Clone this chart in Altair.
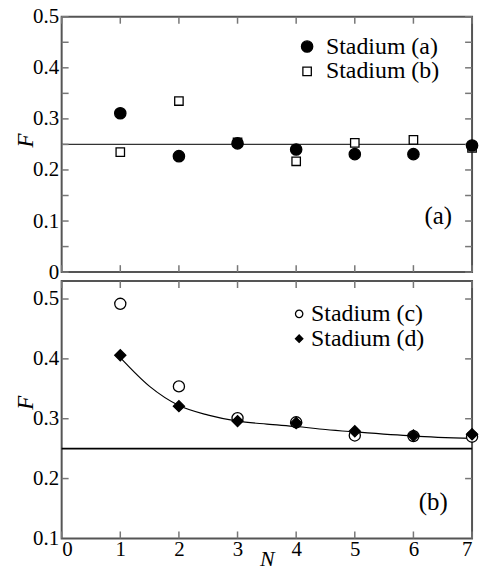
import altair as alt
import pandas as pd

# ---- data ----
N = [1, 2, 3, 4, 5, 6, 7]
stadium_a = [0.311, 0.227, 0.252, 0.240, 0.231, 0.231, 0.248]
stadium_b = [0.235, 0.335, 0.254, 0.217, 0.253, 0.259, 0.243]
stadium_c = [0.492, 0.354, 0.301, 0.294, 0.272, 0.271, 0.270]
stadium_d = [0.406, 0.321, 0.296, 0.293, 0.279, 0.272, 0.274]
fit_N = [1, 1.5, 2, 2.5, 3, 3.5, 4, 4.5, 5, 6, 7]
fit_F = [0.402, 0.354, 0.322, 0.306, 0.296, 0.291, 0.287, 0.282, 0.278, 0.271, 0.267]
reference_F = [0.25]
x_ticks = [0, 1, 2, 3, 4, 5, 6, 7]
top_y_labels = [0, 0.1, 0.2, 0.3, 0.4, 0.5]
top_y_ticks = [0, 0.05, 0.1, 0.15, 0.2, 0.25, 0.3, 0.35, 0.4, 0.45, 0.5]
bot_y_labels = [0.1, 0.2, 0.3, 0.4, 0.5]
bot_y_ticks = [0.2, 0.3, 0.4, 0.5]
series_top = ["Stadium (a)", "Stadium (b)"]
series_bot = ["Stadium (c)", "Stadium (d)"]

SERIF = "Liberation Serif"
TW, TH = 413, 257
BW, BH = 413, 259
TICK_COLOR = "#777"
TICKLEN = 7

top_pts = pd.DataFrame({
    "N": N + N,
    "F": stadium_b + stadium_a,
    "series": [series_top[1]] * 7 + [series_top[0]] * 7,
})
bot_pts = pd.DataFrame({
    "N": N + N,
    "F": stadium_c + stadium_d,
    "series": [series_bot[0]] * 7 + [series_bot[1]] * 7,
})
fit_df = pd.DataFrame({"N": fit_N, "F": fit_F})
ref_df = pd.DataFrame({"F": reference_F})
xt_df = pd.DataFrame({"N": x_ticks})
tyt_df = pd.DataFrame({"F": top_y_ticks})
byt_df = pd.DataFrame({"F": bot_y_ticks})

xscale = alt.Scale(domain=[0, 7], nice=False, zero=False)
top_yscale = alt.Scale(domain=[0, 0.5], nice=False, zero=False)
bot_yscale = alt.Scale(domain=[0.1, 0.53], nice=False, zero=False)

x_axis_bot = alt.Axis(values=x_ticks, tickSize=0, domain=False, grid=False,
                      labelFont=SERIF, labelFontSize=21, labelColor="black",
                      labelPadding=0, title="N", titleFont=SERIF,
                      titleFontStyle="italic", titleFontWeight="normal",
                      titleFontSize=22, titleColor="black", titlePadding=-11)


def y_axis(vals, pad, ty):
    return alt.Axis(values=vals, format=".1~f", tickSize=0, domain=False,
                    grid=False, labelFont=SERIF, labelFontSize=21,
                    labelColor="black", labelPadding=3, title="F",
                    titleFont=SERIF, titleFontStyle="italic",
                    titleFontWeight="normal", titleFontSize=23,
                    titleColor="black", titlePadding=pad, titleY=ty)


def panel(pts, yscale, yaxis, xaxis, W, H, yticks_df, legend_enc, label,
          label_x, label_y, ref_style, extra=None):
    X = lambda f: alt.X(f"{f}:Q", scale=xscale, axis=xaxis, title="N")
    Y = lambda f: alt.Y(f"{f}:Q", scale=yscale, axis=yaxis, title="F")
    ref = alt.Chart(ref_df).mark_rule(**ref_style).encode(y=Y("F"))
    xt_bottom = alt.Chart(xt_df).mark_rule(color=TICK_COLOR, strokeWidth=1.5).encode(
        x=X("N"), y=alt.value(H), y2=alt.value(H - TICKLEN))
    xt_top = alt.Chart(xt_df).mark_rule(color=TICK_COLOR, strokeWidth=1.5).encode(
        x=X("N"), y=alt.value(0), y2=alt.value(TICKLEN))
    yt_left = alt.Chart(yticks_df).mark_rule(color=TICK_COLOR, strokeWidth=1.5).encode(
        y=Y("F"), x=alt.value(0), x2=alt.value(TICKLEN))
    yt_right = alt.Chart(yticks_df).mark_rule(color=TICK_COLOR, strokeWidth=1.5).encode(
        y=Y("F"), x=alt.value(W), x2=alt.value(W - TICKLEN))
    layers = [ref, xt_bottom, xt_top, yt_left, yt_right]
    if extra is not None:
        layers.append(extra(X, Y))
    points = alt.Chart(pts).mark_point(opacity=1, strokeWidth=1.3).encode(
        x=X("N"), y=Y("F"), **legend_enc)
    layers.append(points)
    txt = alt.Chart(pd.DataFrame({"t": [label]})).mark_text(
        font=SERIF, fontSize=25, color="black", align="center",
        baseline="middle").encode(text="t:N", x=alt.value(label_x),
                                  y=alt.value(label_y))
    layers.append(txt)
    return alt.layer(*layers).properties(width=W, height=H)


leg_top = alt.Legend(title=None, orient="none", legendX=235, legendY=18,
                     labelFont=SERIF, labelFontSize=24, labelColor="black",
                     labelOffset=7, rowPadding=1, symbolStrokeWidth=1.3,
                     symbolOpacity=1, padding=0)
enc_top = dict(
    shape=alt.Shape("series:N", scale=alt.Scale(domain=series_top, range=["circle", "square"]), legend=leg_top),
    fill=alt.Fill("series:N", scale=alt.Scale(domain=series_top, range=["black", "white"]), legend=leg_top),
    stroke=alt.Stroke("series:N", scale=alt.Scale(domain=series_top, range=["black", "black"]), legend=leg_top),
    size=alt.Size("series:N", scale=alt.Scale(domain=series_top, range=[130, 72]), legend=leg_top),
)

leg_bot = alt.Legend(title=None, orient="none", legendX=227, legendY=21,
                     labelFont=SERIF, labelFontSize=24, labelColor="black",
                     labelOffset=0, rowPadding=1, symbolStrokeWidth=1.3,
                     symbolOpacity=1, symbolSize=55, padding=0)
enc_bot = dict(
    shape=alt.Shape("series:N", scale=alt.Scale(domain=series_bot, range=["circle", "diamond"]), legend=leg_bot),
    fill=alt.Fill("series:N", scale=alt.Scale(domain=series_bot, range=["white", "black"]), legend=leg_bot),
    stroke=alt.Stroke("series:N", scale=alt.Scale(domain=series_bot, range=["black", "black"]), legend=leg_bot),
    size=alt.value(125),
)


def fit_layer(X, Y):
    return alt.Chart(fit_df).mark_line(color="black", strokeWidth=1.2,
                                       interpolate="monotone").encode(
        x=X("N"), y=Y("F"))


top = panel(top_pts, top_yscale, y_axis(top_y_labels, -5, 124), None, TW, TH,
            tyt_df, enc_top, "(a)", 379, 201,
            dict(color="#333", strokeWidth=1.2))
bottom = panel(bot_pts, bot_yscale, y_axis(bot_y_labels, -5, 122), x_axis_bot,
               BW, BH, byt_df, enc_bot, "(b)", 374, 222,
               dict(color="black", strokeWidth=1.6), extra=fit_layer)

chart = alt.vconcat(top, bottom, spacing=9, bounds="flush").resolve_scale(
    shape="independent", fill="independent", size="independent",
    stroke="independent", y="independent").configure(
    font=SERIF, background="white",
    view=alt.ViewConfig(stroke="#555", strokeWidth=2)).properties(
    padding={"left": 5, "top": -5, "right": -2, "bottom": 1})

chart.save("out.html", embed_options={"renderer": "svg", "actions": False})
